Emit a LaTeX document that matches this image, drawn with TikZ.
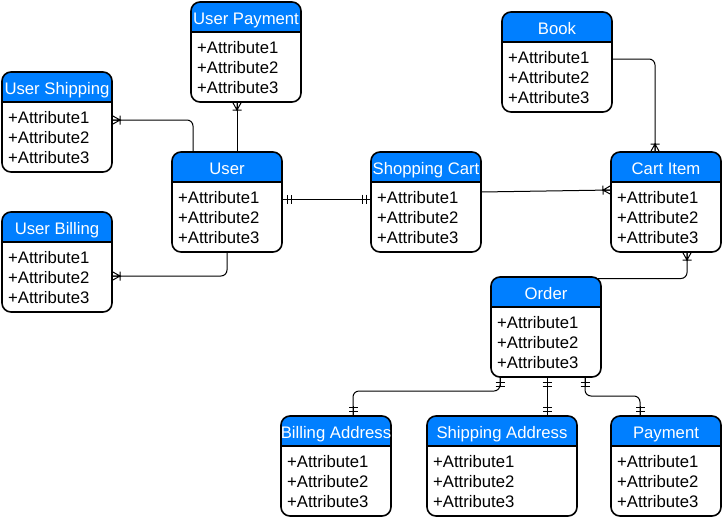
\documentclass[tikz,border=0pt]{standalone}
\usepackage{fontspec}
\setmainfont{Liberation Sans}
\usetikzlibrary{arrows.meta}

\pgfdeclarearrow{
  name = CrowBar,
  setup code = {
    \pgfarrowssettipend{0pt}
    \pgfarrowssetlineend{0pt}
    \pgfarrowssetbackend{-9pt}
    \pgfarrowssetvisualbackend{-9pt}
    \pgfarrowsupperhullpoint{0pt}{5pt}
    \pgfarrowsupperhullpoint{-9pt}{5pt}
  },
  drawing code = {
    \pgfsetdash{}{0pt}
    \pgfpathmoveto{\pgfqpoint{0pt}{4.5pt}}
    \pgfpathlineto{\pgfqpoint{-8pt}{0pt}}
    \pgfpathlineto{\pgfqpoint{0pt}{-4.5pt}}
    \pgfpathmoveto{\pgfqpoint{-8pt}{4.5pt}}
    \pgfpathlineto{\pgfqpoint{-8pt}{-4.5pt}}
    \pgfpathmoveto{\pgfqpoint{0pt}{0pt}}
    \pgfpathlineto{\pgfqpoint{-9pt}{0pt}}
    \pgfusepathqstroke
  }
}

\pgfdeclarearrow{
  name = Bars,
  setup code = {
    \pgfarrowssettipend{0pt}
    \pgfarrowssetlineend{0pt}
    \pgfarrowssetbackend{-10pt}
    \pgfarrowssetvisualbackend{-10pt}
    \pgfarrowsupperhullpoint{0pt}{5pt}
    \pgfarrowsupperhullpoint{-10pt}{5pt}
  },
  drawing code = {
    \pgfsetdash{}{0pt}
    \pgfpathmoveto{\pgfqpoint{-5pt}{4.5pt}}
    \pgfpathlineto{\pgfqpoint{-5pt}{-4.5pt}}
    \pgfpathmoveto{\pgfqpoint{-9pt}{4.5pt}}
    \pgfpathlineto{\pgfqpoint{-9pt}{-4.5pt}}
    \pgfpathmoveto{\pgfqpoint{0pt}{0pt}}
    \pgfpathlineto{\pgfqpoint{-10pt}{0pt}}
    \pgfusepathqstroke
  }
}

\definecolor{hdr}{RGB}{0,127,255}

\tikzset{
  box/.style={draw=black, line width=1.6pt, rounded corners=9pt, minimum height=100pt,
    inner sep=0pt, outer sep=0pt, anchor=north west},
  ttl/.style={text=white, font=\fontsize{16.7}{20}\selectfont, inner sep=0pt, anchor=base},
  att/.style={text=black, font=\fontsize{16.7}{20}\selectfont, inner sep=0pt, anchor=base west},
  conn/.style={draw=black, line width=1pt, rounded corners=6pt},
  sepline/.style={draw=black, line width=1.4pt}
}

\newcommand\entity[5]{%
  \begin{scope}
    \clip (#2,#3) rectangle ++(#4,30);
    \fill[hdr, rounded corners=9pt] (#2,#3) rectangle ++(#4,100);
  \end{scope}
  \draw[sepline] (#2,#3+30) -- ++(#4,0);
  \node[box, minimum width=#4pt] (#1) at (#2,#3) {};
  \node[ttl] (#1-t) at (#2+#4/2,#3+22) {#5};
  \node[att] (#1-a1) at (#2+6,#3+51.5) {+Attribute1};
  \node[att] (#1-a2) at (#2+6,#3+71.5) {+Attribute2};
  \node[att] (#1-a3) at (#2+6,#3+91.5) {+Attribute3};
}

\begin{document}
\begin{tikzpicture}[x=1pt,y=-1pt]
  \fill[white] (0,0) rectangle (722,517);
  \useasboundingbox (0,0) rectangle (722,517);

  \entity{UPay}{191}{2}{110}{User Payment}
  \entity{UShip}{2}{72}{110}{User Shipping}
  \entity{User}{172}{152}{110}{User}
  \entity{UBill}{2}{212}{110}{User Billing}
  \entity{SCart}{371}{152}{110}{Shopping Cart}
  \entity{Book}{502}{12}{110}{Book}
  \entity{CItem}{611}{152}{110}{Cart Item}
  \entity{Order}{491}{277}{110}{Order}
  \entity{BAddr}{281}{416}{110}{Billing Address}
  \entity{SAddr}{427}{416}{150}{Shipping Address}
  \entity{Pay}{611}{416}{110}{Payment}

  % User side connectors
  \draw[conn,-CrowBar] ([xshift=21pt]User.north west) |- ([yshift=2pt]UShip.east);
  \draw[conn,-CrowBar] ([xshift=65pt]User.north west) -- ([xshift=46pt]UPay.south west);
  \draw[conn,-CrowBar] (User.south) |- ([yshift=-14pt]UBill.east);
  \draw[conn,Bars-Bars] ([yshift=3pt]User.east) -- ([yshift=3pt]SCart.west);

  % Cart connectors
  \draw[conn,-CrowBar] ([yshift=10pt]SCart.east) -- ([yshift=12pt]CItem.west);
  \draw[conn,-CrowBar] ([yshift=3pt]Book.east) -| ([xshift=-11pt]CItem.north);
  \draw[conn,CrowBar-] ([xshift=21pt]CItem.south) |- ([shift={(-3pt,-1.5pt)}]Order.north east);

  % Order connectors
  \draw[conn,Bars-Bars] ([xshift=-46pt]Order.south) -- ++(0,14) -| ([xshift=17pt]BAddr.north);
  \draw[conn,Bars-Bars] ([xshift=1pt]Order.south) -- ([xshift=45pt]SAddr.north);
  \draw[conn,Bars-Bars] ([xshift=39pt]Order.south) -- ++(0,19) -| ([xshift=-26pt]Pay.north);
\end{tikzpicture}
\end{document}
